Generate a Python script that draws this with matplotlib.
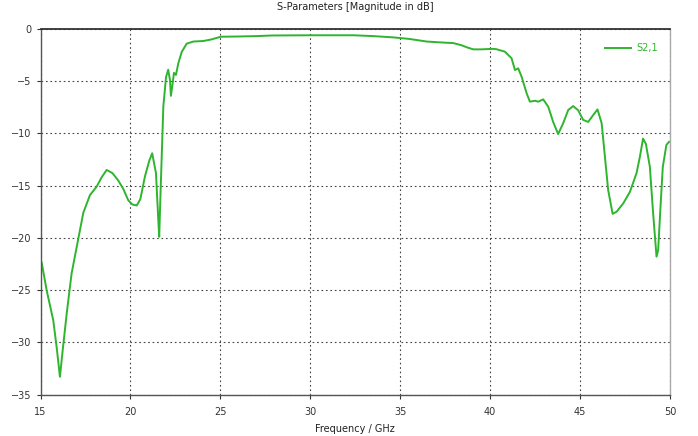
import matplotlib
matplotlib.use("Agg")
import matplotlib.pyplot as plt

freq_ghz = [15.0, 15.07, 15.34, 15.71, 15.9, 16.08, 16.25, 16.46, 16.73, 17.01, 17.38, 17.75,
            18.12, 18.4, 18.68, 19.0, 19.32, 19.6, 19.88, 20.1, 20.35, 20.55, 20.81, 21.05, 21.21,
            21.42, 21.55, 21.6, 21.68, 21.77, 21.83, 21.98, 22.1, 22.2, 22.25, 22.35, 22.42,
            22.53, 22.66, 22.85, 23.13, 23.5, 24.05, 24.5, 25.03, 25.9, 27.0, 27.9, 30.0, 32.4,
            33.5, 34.6, 35.5, 36.47, 37.2, 37.95, 38.4, 38.7, 39.06, 39.5, 40.17, 40.36, 40.82,
            41.19, 41.38, 41.56, 41.75, 42.03, 42.21, 42.49, 42.67, 42.95, 43.23, 43.5, 43.78,
            44.06, 44.34, 44.62, 44.9, 45.17, 45.45, 45.73, 45.97, 46.2, 46.38, 46.56, 46.81,
            47.03, 47.4, 47.77, 48.14, 48.33, 48.5, 48.66, 48.88, 49.06, 49.25, 49.34, 49.47,
            49.6, 49.8, 49.95]
s21_db = [-22.2, -22.4, -25.0, -27.9, -30.5, -33.3, -30.5, -27.2, -23.4, -20.9, -17.6, -15.9,
          -15.1, -14.2, -13.5, -13.8, -14.5, -15.3, -16.4, -16.8, -16.9, -16.3, -14.1, -12.6, -11.9,
          -13.8, -18.3, -19.9, -15.4, -10.6, -7.4, -4.6, -3.9, -4.9, -6.4, -5.2, -4.2,
          -4.4, -3.3, -2.2, -1.4, -1.2, -1.15, -1.0, -0.74, -0.72, -0.68, -0.62, -0.6, -0.6,
          -0.68, -0.8, -0.95, -1.2, -1.28, -1.35, -1.55, -1.75, -1.95, -1.95, -1.9, -1.94, -2.17,
          -2.8, -3.93, -3.77, -4.57, -6.16, -6.96, -6.87, -6.96, -6.74, -7.44, -8.88, -10.06,
          -9.03, -7.76, -7.38, -7.8, -8.7, -8.9, -8.24, -7.7, -9.03, -12.2, -15.4, -17.7,
          -17.5, -16.7, -15.6, -13.8, -12.2, -10.5, -11.0, -13.2, -17.6, -21.8, -21.2, -17.1,
          -13.2, -11.1, -10.8]

x_ticks = [15, 20, 25, 30, 35, 40, 45, 50]
y_ticks = [0, -5, -10, -15, -20, -25, -30, -35]
series_label = "S2,1"
title = "S-Parameters [Magnitude in dB]"
x_label = "Frequency / GHz"

fig = plt.figure(figsize=(6.98, 4.36), dpi=100)
ax = fig.add_axes([40.5 / 698, 1 - 394.5 / 436, (670 - 40.5) / 698, (394.5 - 29) / 436])

green = "#2eb52e"
ax.plot(freq_ghz, s21_db, color=green, linewidth=1.4, label=series_label)

ax.set_xlim(15, 50)
ax.set_ylim(-35, 0)
ax.set_xticks(x_ticks)
ax.set_yticks(y_ticks)
ax.grid(True, color="#444444", linestyle=(0, (1.5, 2.5)), linewidth=0.8)
ax.tick_params(labelsize=7, colors="#333333", length=3, width=0.8)
ax.tick_params(axis="x", pad=6)

for side in ["left", "bottom", "right"]:
    ax.spines[side].set_color("#555555")
    ax.spines[side].set_linewidth(1.0)
ax.spines["top"].set_color("#333333")
ax.spines["top"].set_linewidth(1.3)
ax.spines["right"].set_color("#aaaaaa")

ax.set_title(title, fontsize=7, color="#222222", pad=14)
ax.set_xlabel(x_label, fontsize=7, color="#222222", labelpad=5)

leg = ax.legend(loc="upper right", bbox_to_anchor=(0.995, 0.985), frameon=False,
                fontsize=7, handlelength=2.6, handletextpad=0.6)
for t in leg.get_texts():
    t.set_color(green)

fig.savefig("out.png", dpi=100)
